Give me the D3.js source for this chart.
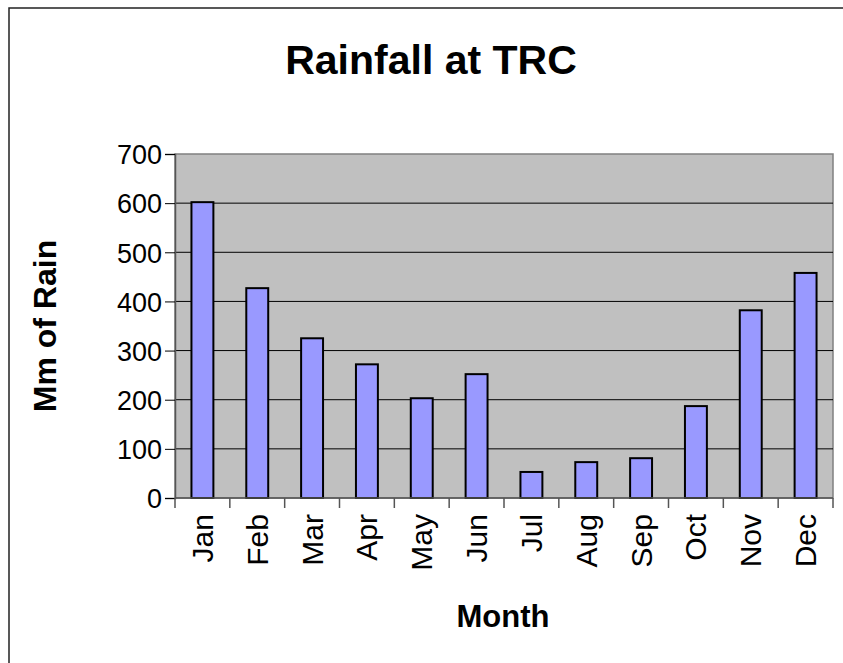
<!DOCTYPE html>
<html>
<head>
<meta charset="utf-8">
<script src="https://cdn.jsdelivr.net/npm/d3@7"></script>
<style>
  body { margin: 0; background: #fff; }
  text { font-family: Arial, "Liberation Sans", sans-serif; fill: #000; }
</style>
</head>
<body>
<svg id="chart" width="843" height="663"></svg>
<script>
// data
var months = ['Jan', 'Feb', 'Mar', 'Apr', 'May', 'Jun', 'Jul', 'Aug', 'Sep', 'Oct', 'Nov', 'Dec'];
var rain = [602, 427, 325, 272, 203, 252, 53, 73, 81, 187, 382, 458];
var yTicks = [0, 100, 200, 300, 400, 500, 600, 700];

var svg = d3.select('#chart');

// plot area
var plotLeft = 175, plotRight = 833, plotTop = 154, plotBottom = 498;

var x = d3.scaleBand()
    .domain(months)
    .range([plotLeft, plotRight])
    .paddingInner(0.6)
    .paddingOuter(0.3);

var y = d3.scaleLinear()
    .domain([0, 700])
    .range([plotBottom, plotTop]);

// outer chart border (only top/left fall inside the frame)
svg.append('rect')
    .attr('x', 9).attr('y', 8)
    .attr('width', 900).attr('height', 700)
    .style('fill', '#fff')
    .style('stroke', '#222')
    .style('stroke-width', 1.5);

// plot background
svg.append('rect')
    .attr('x', plotLeft).attr('y', plotTop)
    .attr('width', plotRight - plotLeft).attr('height', plotBottom - plotTop)
    .style('fill', '#c0c0c0')
    .style('stroke', '#808080')
    .style('stroke-width', 1.5);

// gridlines
svg.append('g')
    .selectAll('line')
    .data(yTicks.filter(d => d > 0 && d < 700))
    .enter()
    .append('line')
    .attr('x1', plotLeft).attr('x2', plotRight)
    .attr('y1', d => y(d)).attr('y2', d => y(d))
    .style('stroke', '#000')
    .style('stroke-width', 1);

// bars
svg.append('g')
    .selectAll('rect')
    .data(rain)
    .enter()
    .append('rect')
    .attr('x', (d, i) => x(months[i]))
    .attr('y', d => y(d))
    .attr('width', x.bandwidth())
    .attr('height', d => y(0) - y(d))
    .style('fill', '#9999ff')
    .style('stroke', '#000')
    .style('stroke-width', 2);

// y axis
var yAxis = d3.axisLeft(y)
    .tickValues(yTicks)
    .tickSize(10)
    .tickPadding(3);

var gy = svg.append('g')
    .attr('transform', 'translate(' + plotLeft + ',0)')
    .call(yAxis);
gy.select('.domain').style('stroke', '#555').style('stroke-width', 1.5);
gy.selectAll('.tick line').style('stroke', '#000');
gy.selectAll('.tick text')
    .style('font-size', '27px')
    .style('font-family', 'Arial, "Liberation Sans", sans-serif')
    .style('fill', '#000')
    .attr('dy', '0.36em');

// x axis: ticks between categories
var step = x.step();
var boundaries = d3.range(months.length + 1).map(i => plotLeft + i * step);

var gx = svg.append('g');
gx.append('line')
    .attr('x1', plotLeft).attr('x2', plotRight)
    .attr('y1', plotBottom).attr('y2', plotBottom)
    .style('stroke', '#555')
    .style('stroke-width', 1.5);
gx.selectAll('.tickmark')
    .data(boundaries)
    .enter()
    .append('line')
    .attr('class', 'tickmark')
    .attr('x1', d => d).attr('x2', d => d)
    .attr('y1', plotBottom).attr('y2', plotBottom + 10)
    .style('stroke', '#555')
    .style('stroke-width', 1.5);

gx.selectAll('.month')
    .data(months)
    .enter()
    .append('text')
    .attr('class', 'month')
    .attr('transform', d => 'translate(' + (x(d) + x.bandwidth() / 2) + ',' + (plotBottom + 16) + ') rotate(-90)')
    .attr('text-anchor', 'end')
    .attr('dy', '0.35em')
    .style('font-size', '30px')
    .text(d => d);

// title
svg.append('text')
    .attr('x', 431).attr('y', 74)
    .attr('text-anchor', 'middle')
    .style('font-size', '41px')
    .style('font-weight', 'bold')
    .text('Rainfall at TRC');

// axis titles
svg.append('text')
    .attr('x', 503).attr('y', 627)
    .attr('text-anchor', 'middle')
    .style('font-size', '31px')
    .style('font-weight', 'bold')
    .text('Month');

svg.append('text')
    .attr('transform', 'translate(56,326) rotate(-90)')
    .attr('text-anchor', 'middle')
    .style('font-size', '32px')
    .style('font-weight', 'bold')
    .text('Mm of Rain');
</script>
</body>
</html>
